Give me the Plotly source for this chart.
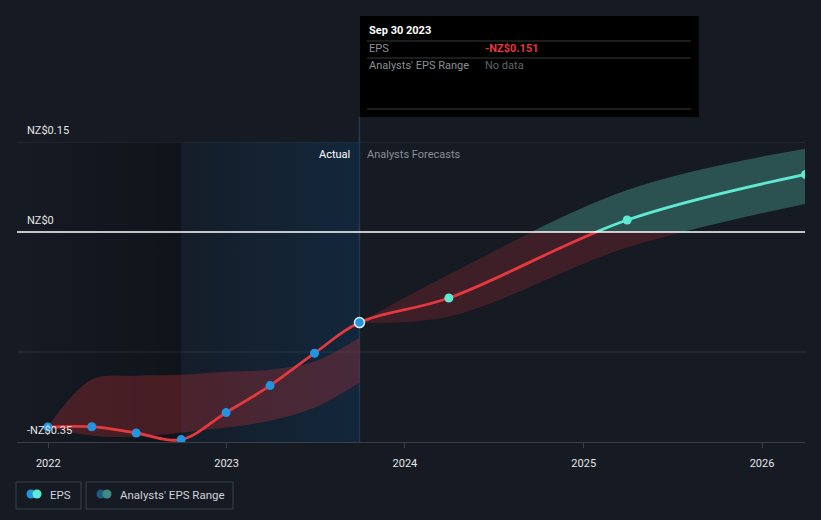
import plotly.graph_objects as go

# ---------------- data ----------------
actual_dates = ["2021-12-31", "2022-03-31", "2022-06-30", "2022-09-30",
                "2022-12-31", "2023-03-31", "2023-06-30", "2023-09-30"]
actual_eps = [-0.325, -0.3245, -0.335, -0.346, -0.301, -0.256, -0.202, -0.151]
hist_range_upper = [-0.325, -0.246, -0.2395, -0.238, -0.233, -0.2295, -0.216, -0.176]
hist_range_lower = [-0.325, -0.3395, -0.341, -0.3345, -0.326, -0.3145, -0.293, -0.251]

forecast_dates = ["2023-09-30", "2024-03-31", "2025-03-31", "2026-03-31"]
forecast_eps = [-0.151, -0.110, 0.020, 0.096]
forecast_upper = [-0.151, -0.071, 0.070, 0.139]
forecast_lower = [-0.151, -0.141, -0.026, 0.047]

year_ticks = ["2022-01-01", "2023-01-01", "2024-01-01", "2025-01-01", "2026-01-01"]
year_labels = ["2022", "2023", "2024", "2025", "2026"]
y_label_vals = [0.15, 0.0, -0.35]
y_label_text = ["NZ$0.15", "NZ$0", "-NZ$0.35"]
grid_vals = [0.15, -0.2]

x_range = ["2021-10-29", "2026-03-30"]
y_range = [-0.35, 0.15]
past_end = "2022-09-30"       # start of last-12-months highlight
divider = "2023-09-30"        # Actual / Forecast boundary

tooltip_date = "Sep 30 2023"
tooltip_eps = "-NZ$0.151"

# ---------------- styling ----------------
W, H = 821, 520
PL, PR, PT, PB = 17, 805, 142, 442
BG = "#151a23"
RED = "#e3393f"
TEAL = "#5fe8d2"
BLUE = "#2394df"
FONT = "Roboto"


def pxx(px):
    return (px - PL) / (PR - PL)


def pxy(py):
    return (PB - py) / (PB - PT)


zero_frac = (0 - y_range[0]) / (y_range[1] - y_range[0])

fig = go.Figure()

# background regions (subplot xy, drawn first)
fig.add_trace(go.Scatter(
    x=[x_range[0], past_end, past_end, x_range[0], x_range[0]],
    y=[y_range[0], y_range[0], y_range[1], y_range[1], y_range[0]],
    fill="toself", mode="none", hoverinfo="skip", showlegend=False,
    fillgradient=dict(type="horizontal",
                      colorscale=[[0, "rgba(0,0,0,0.0)"], [1, "rgba(0,0,0,0.25)"]]),
    xaxis="x", yaxis="y"))
fig.add_trace(go.Scatter(
    x=[past_end, divider, divider, past_end, past_end],
    y=[y_range[0], y_range[0], y_range[1], y_range[1], y_range[0]],
    fill="toself", mode="none", hoverinfo="skip", showlegend=False,
    fillgradient=dict(type="horizontal",
                      colorscale=[[0, "rgba(16,52,84,0.12)"], [1, "rgba(16,52,84,0.5)"]]),
    xaxis="x", yaxis="y"))

eps_dates = actual_dates + forecast_dates[1:]
eps_vals = actual_eps + forecast_eps[1:]

# negative part (red) on y2, positive part (teal) on y3
for yax, col, hist_col, band_col in [
        ("y2", RED, "rgba(200,50,56,0.30)", "rgba(200,50,56,0.24)"),
        ("y3", TEAL, "rgba(100,210,190,0.30)", "rgba(100,210,190,0.30)")]:
    # historical band
    fig.add_trace(go.Scatter(x=actual_dates, y=hist_range_upper, mode="lines",
                             line=dict(width=0, shape="spline"), hoverinfo="skip",
                             showlegend=False, xaxis="x", yaxis=yax))
    fig.add_trace(go.Scatter(x=actual_dates, y=hist_range_lower, mode="lines",
                             line=dict(width=0, shape="spline"), fill="tonexty",
                             fillcolor=hist_col,
                             hoverinfo="skip", showlegend=False, xaxis="x", yaxis=yax))
    # forecast band
    fig.add_trace(go.Scatter(x=forecast_dates, y=forecast_upper, mode="lines",
                             line=dict(width=0, shape="spline"), hoverinfo="skip",
                             showlegend=False, xaxis="x", yaxis=yax))
    fig.add_trace(go.Scatter(x=forecast_dates, y=forecast_lower, mode="lines",
                             line=dict(width=0, shape="spline"), fill="tonexty",
                             fillcolor=band_col, hoverinfo="skip",
                             showlegend=False, xaxis="x", yaxis=yax))
    # EPS line
    fig.add_trace(go.Scatter(x=eps_dates, y=eps_vals, mode="lines",
                             line=dict(color=col, width=2.8, shape="spline"),
                             hoverinfo="skip", showlegend=False, xaxis="x", yaxis=yax))

# markers on the full-range axis y4 (drawn last)
fig.add_trace(go.Scatter(x=actual_dates[:-1], y=actual_eps[:-1], mode="markers",
                         marker=dict(color=BLUE, size=9, line=dict(width=0)),
                         hoverinfo="skip", showlegend=False, xaxis="x", yaxis="y4"))
fig.add_trace(go.Scatter(x=actual_dates[-1:], y=actual_eps[-1:], mode="markers",
                         marker=dict(color=BLUE, size=10, line=dict(width=1.5, color="#dcecf8")),
                         hoverinfo="skip", showlegend=False, xaxis="x", yaxis="y4"))
fig.add_trace(go.Scatter(x=forecast_dates[1:], y=forecast_eps[1:], mode="markers",
                         marker=dict(color=TEAL, size=9, line=dict(width=0)),
                         hoverinfo="skip", showlegend=False, xaxis="x", yaxis="y4"))

shapes = []
# gridlines (lowest layer)
for g in grid_vals:
    shapes.append(dict(type="line", xref="paper", yref="y4", x0=0, x1=1, y0=g, y1=g,
                       line=dict(color="#30353e", width=1), layer="below"))
# zero line
shapes.append(dict(type="line", xref="paper", yref="y4", x0=0, x1=1, y0=0, y1=0,
                   line=dict(color="#ffffff", width=1.5), layer="above"))
# divider
shapes.append(dict(type="line", xref="x", yref="paper", x0=divider, x1=divider,
                   y0=0, y1=pxy(117), line=dict(color="#263a4e", width=1.5), layer="below"))

# tooltip
shapes.append(dict(type="rect", xref="paper", yref="paper",
                   x0=pxx(360), x1=pxx(699), y0=pxy(117), y1=pxy(16),
                   fillcolor="#000000", line=dict(width=0), layer="above"))
for sy in [41, 58, 109]:
    shapes.append(dict(type="line", xref="paper", yref="paper",
                       x0=pxx(367), x1=pxx(691), y0=pxy(sy), y1=pxy(sy),
                       line=dict(color="#3a3a3a", width=1), layer="above"))

# legend boxes
for bx0, bx1 in [(16, 81), (86, 233)]:
    shapes.append(dict(type="rect", xref="paper", yref="paper",
                       x0=pxx(bx0), x1=pxx(bx1), y0=pxy(509), y1=pxy(482),
                       line=dict(color="#3b4048", width=1), fillcolor="rgba(0,0,0,0)",
                       layer="above"))
for cx, ccol in [(31, BLUE), (37, TEAL), (101, "#1f5a80"), (107, "#3f8a82")]:
    shapes.append(dict(type="circle", xref="paper", yref="paper",
                       xsizemode="pixel", ysizemode="pixel",
                       xanchor=pxx(cx), yanchor=pxy(494),
                       x0=-4.5, x1=4.5, y0=-4.5, y1=4.5,
                       fillcolor=ccol, line=dict(width=0), layer="above"))

annotations = []
for v, t in zip(y_label_vals, y_label_text):
    annotations.append(dict(text=t, xref="paper", yref="y4", x=pxx(25), y=v,
                            xanchor="left", yanchor="bottom", yshift=3, showarrow=False,
                            font=dict(family=FONT, size=11, color="#e6e6e6")))
annotations.append(dict(text="Actual", xref="x", yref="paper", x=divider, y=pxy(154),
                        xanchor="right", yanchor="middle", xshift=-7, showarrow=False,
                        font=dict(family=FONT, size=11, color="#ffffff")))
annotations.append(dict(text="Analysts Forecasts", xref="x", yref="paper", x=divider,
                        y=pxy(154), xanchor="left", yanchor="middle", xshift=6,
                        showarrow=False, font=dict(family=FONT, size=11, color="#8a8f97")))
# tooltip texts
annotations.append(dict(text="<b>" + tooltip_date + "</b>", xref="paper", yref="paper",
                        x=pxx(367), y=pxy(31), xanchor="left", yanchor="middle",
                        showarrow=False, font=dict(family=FONT, size=11, color="#ffffff")))
annotations.append(dict(text="EPS", xref="paper", yref="paper", x=pxx(367), y=pxy(49),
                        xanchor="left", yanchor="middle", showarrow=False,
                        font=dict(family=FONT, size=11, color="#8a8f96")))
annotations.append(dict(text="<b>" + tooltip_eps + "</b>", xref="paper", yref="paper",
                        x=pxx(483), y=pxy(49), xanchor="left", yanchor="middle",
                        showarrow=False, font=dict(family=FONT, size=11, color="#e5383e")))
annotations.append(dict(text="Analysts' EPS Range", xref="paper", yref="paper",
                        x=pxx(367), y=pxy(66), xanchor="left", yanchor="middle",
                        showarrow=False, font=dict(family=FONT, size=11, color="#8a8f96")))
annotations.append(dict(text="No data", xref="paper", yref="paper", x=pxx(483), y=pxy(66),
                        xanchor="left", yanchor="middle", showarrow=False,
                        font=dict(family=FONT, size=11, color="#5f646b")))
# legend texts
annotations.append(dict(text="EPS", xref="paper", yref="paper", x=pxx(48), y=pxy(495),
                        xanchor="left", yanchor="middle", showarrow=False,
                        font=dict(family=FONT, size=11.5, color="#d0d3d8")))
annotations.append(dict(text="Analysts' EPS Range", xref="paper", yref="paper",
                        x=pxx(118), y=pxy(495), xanchor="left", yanchor="middle",
                        showarrow=False, font=dict(family=FONT, size=11.5, color="#d0d3d8")))

hidden = dict(visible=False, anchor="x", fixedrange=True)
fig.update_layout(
    width=W, height=H,
    margin=dict(l=PL, r=W - PR, t=PT, b=H - PB),
    paper_bgcolor=BG, plot_bgcolor="rgba(0,0,0,0)",
    showlegend=False, hovermode=False,
    font=dict(family=FONT),
    xaxis=dict(type="date", range=x_range, anchor="y", tickvals=year_ticks,
               ticktext=year_labels, showgrid=False, zeroline=False,
               showline=True, linecolor="#3a3f47", linewidth=1,
               ticks="outside", ticklen=5, tickcolor="#3a3f47",
               tickfont=dict(family=FONT, size=11, color="#e6e6e6"),
               ticklabelstandoff=6, fixedrange=True),
    yaxis=dict(range=y_range, domain=[0, 1], visible=False, fixedrange=True),
    yaxis2=dict(range=[y_range[0], 0], domain=[0, zero_frac], **hidden),
    yaxis3=dict(range=[0, y_range[1]], domain=[zero_frac, 1], **hidden),
    yaxis4=dict(range=y_range, domain=[0, 1], **hidden),
    shapes=shapes, annotations=annotations,
)

fig.write_html(
    "out.html",
    config={"displayModeBar": False},
    post_script=("document.body.style.margin='0';"
                 "document.body.style.background='" + BG + "';"
                 "document.documentElement.style.background='" + BG + "';"),
)
